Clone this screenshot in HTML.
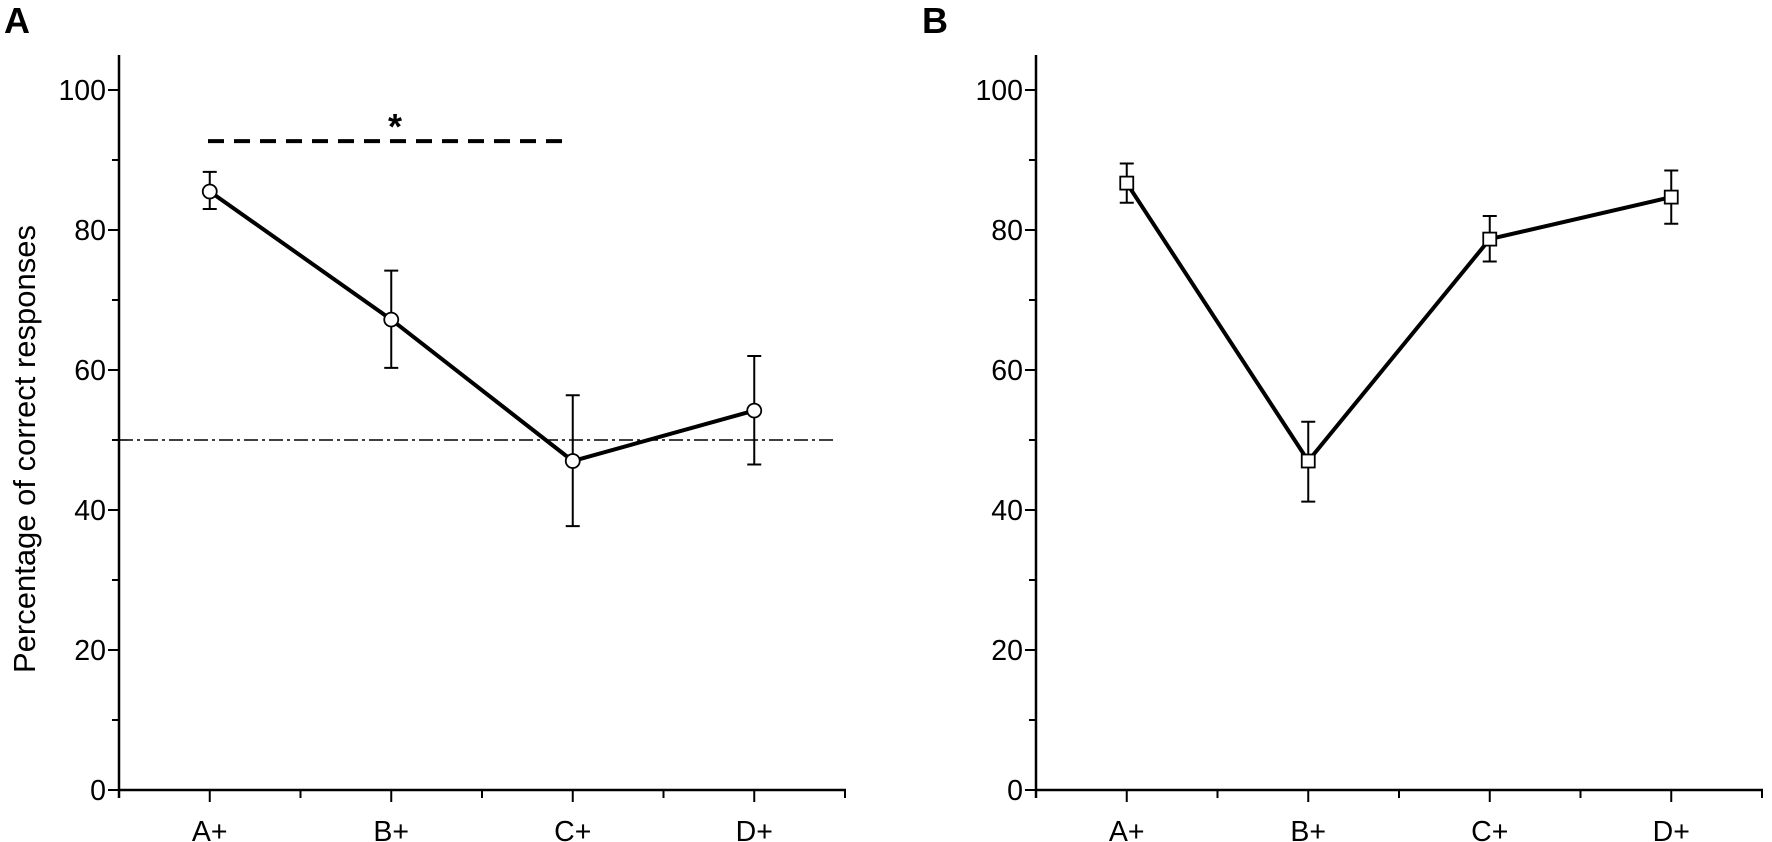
<!DOCTYPE html>
<html><head><meta charset="utf-8"><style>
html,body{margin:0;padding:0;background:#fff;}
svg{display:block;font-family:"Liberation Sans",Arial,sans-serif;}
</style></head><body>
<svg id="chart" width="1772" height="842" viewBox="0 0 1772 842" xmlns="http://www.w3.org/2000/svg"></svg>
<script>
const categories = ["A+","B+","C+","D+"];
const meansA = [85.5, 67.2, 47.0, 54.2];
const lowA = [83.0, 60.3, 37.7, 46.5];
const highA = [88.3, 74.2, 56.4, 62.0];
const meansB = [86.7, 47.0, 78.7, 84.7];
const lowB = [83.9, 41.2, 75.5, 80.9];
const highB = [89.5, 52.6, 82.0, 88.5];
const yTicks = [0, 20, 40, 60, 80, 100];
const chanceLevel = 50;
const sigLevel = 92.7;

const NS = "http://www.w3.org/2000/svg";
const svg = document.getElementById('chart');
function mk(tag, attrs, parent, text) {
  const e = document.createElementNS(NS, tag);
  for (const k in attrs) e.setAttribute(k, attrs[k]);
  if (text !== undefined) e.textContent = text;
  (parent || svg).appendChild(e);
  return e;
}
const Y0 = 790, PXU = 7.0;
function yScale(v) { return Y0 - v * PXU; }
const STEP = 181.5;

function panel(name, x0, means, low, high, marker) {
  const g = mk('g', {});
  
  
  const xScale = i => x0 + STEP * (i + 0.5);
  const xEnd = x0 + STEP * categories.length;
  const ya = mk('line', {x1: x0, y1: 55, x2: x0, y2: Y0 + 8, stroke: '#000', 'stroke-width': 2.5}, g);
  
  
  for (let v = 0; v <= 100; v += 10) {
    const major = v % 20 === 0;
    mk('line', {x1: x0 - (major ? 11 : 7), y1: yScale(v), x2: x0, y2: yScale(v), stroke: '#000', 'stroke-width': 2}, g);
  }
  yTicks.forEach(v => {
    const t = mk('text', {x: x0 - 13, y: yScale(v) + 10, 'text-anchor': 'end', 'font-size': 28.5}, g, String(v));
    
    
  });
  const xa = mk('line', {x1: x0 - 1, y1: Y0, x2: xEnd + 1, y2: Y0, stroke: '#000', 'stroke-width': 2.5}, g);
  
  
  for (let k = 0; k <= categories.length * 2; k++) {
    const major = k % 2 === 1;
    const x = x0 + STEP * k / 2;
    mk('line', {x1: x, y1: Y0, x2: x, y2: Y0 + (major ? 12 : 8), stroke: '#000', 'stroke-width': 2}, g);
  }
  categories.forEach((c, i) => {
    const t = mk('text', {x: xScale(i), y: Y0 + 51, 'text-anchor': 'middle', 'font-size': 28.5}, g, c);
    
    
  });
  const pts = means.map((m, i) => xScale(i) + ',' + yScale(m)).join(' ');
  const pl = mk('polyline', {points: pts, fill: 'none', stroke: '#000', 'stroke-width': 4}, g);
  
  
  means.forEach((m, i) => {
    const x = xScale(i);
    const eb = mk('path', {d: `M${x},${yScale(low[i])}V${yScale(high[i])}M${x-7},${yScale(low[i])}H${x+7}M${x-7},${yScale(high[i])}H${x+7}`, stroke: '#000', 'stroke-width': 2, fill: 'none'}, g);
    
    
    let p;
    if (marker === 'circle') p = mk('circle', {cx: x, cy: yScale(m), r: 7, fill: '#fff', stroke: '#000', 'stroke-width': 1.8}, g);
    else p = mk('rect', {x: x - 6.5, y: yScale(m) - 6.5, width: 13, height: 13, fill: '#fff', stroke: '#000', 'stroke-width': 1.8}, g);
    
    
  });
  return {g, xScale, xEnd};
}

const A = panel('a', 119, meansA, lowA, highA, 'circle');
const B = panel('b', 1036, meansB, lowB, highB, 'square');

const ch = mk('line', {x1: 119, y1: yScale(chanceLevel), x2: 835, y2: yScale(chanceLevel), stroke: '#000', 'stroke-width': 1.6, 'stroke-dasharray': '14,4,3,4'}, A.g);


A.g.insertBefore(ch, A.g.querySelector('polyline'));
const sg = mk('line', {x1: 208, y1: yScale(sigLevel), x2: 565, y2: yScale(sigLevel), stroke: '#000', 'stroke-width': 4, 'stroke-dasharray': '16,10'}, A.g);


const st = mk('text', {x: 395, y: yScale(sigLevel) - 2, 'text-anchor': 'middle', 'font-size': 36, 'font-weight': 'bold'}, A.g, '*');



const yt = mk('text', {x: 0, y: 0, 'text-anchor': 'middle', 'font-size': 31, transform: 'translate(35,449) rotate(-90)'}, svg, 'Percentage of correct responses');



const la = mk('text', {x: 4, y: 33, 'font-size': 36, 'font-weight': 'bold'}, svg, 'A');


const lb = mk('text', {x: 922, y: 33, 'font-size': 36, 'font-weight': 'bold'}, svg, 'B');


</script>
</body></html>
